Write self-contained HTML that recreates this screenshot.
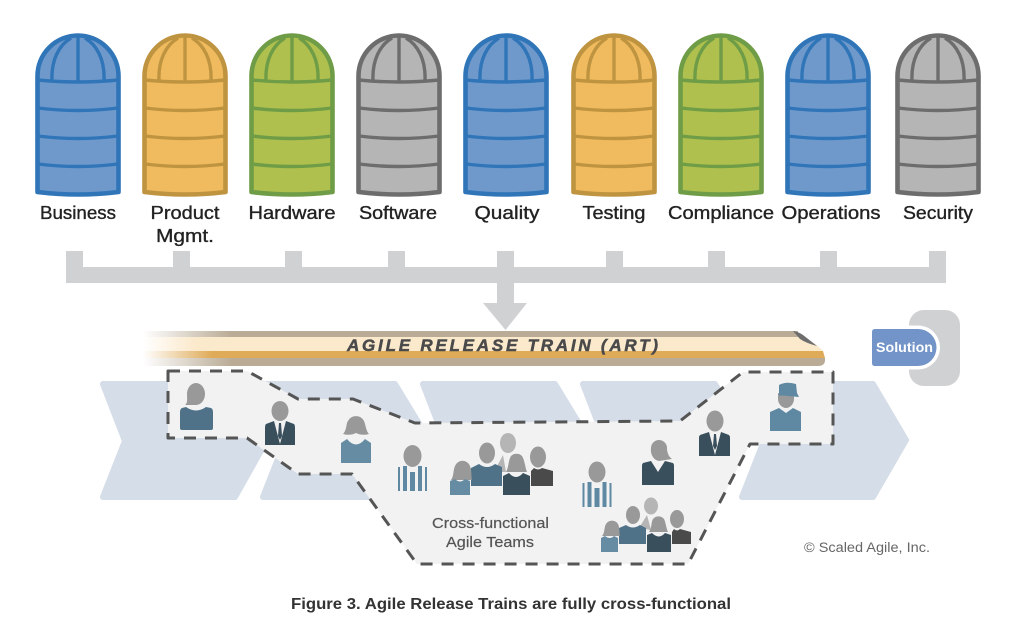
<!DOCTYPE html>
<html>
<head>
<meta charset="utf-8">
<style>
html,body{margin:0;padding:0;background:#fff;width:1024px;height:630px;overflow:hidden}
svg{display:block}
text{font-family:"Liberation Sans",sans-serif}
.l{font-size:18px;fill:#222;stroke:#222;stroke-width:.35;text-anchor:middle}
</style>
</head>
<body>
<svg width="1024" height="630" viewBox="0 0 1024 630" xmlns="http://www.w3.org/2000/svg">
<defs>
<g id="silo" stroke-linejoin="round">
  <path stroke-width="4.600" d="M-40.500 192V76A40.500 40.500 0 0 1 40.500 76V192Q0 197 -40.500 192Z"/>
  <path fill="none" stroke-width="3.400" d="M-40 80Q0 84 40 80M-40 108Q0 113 40 108M-40 136Q0 141 40 136M-40 164Q0 169 40 164M0 35V82M-26 81C-27 60-19 45-7 38M26 81C27 60 19 45 7 38"/>
</g>
<linearGradient id="fb" gradientUnits="userSpaceOnUse" x1="143" x2="232"><stop offset="0" stop-color="#b9ab95" stop-opacity="0"/><stop offset="1" stop-color="#b9ab95"/></linearGradient>
<linearGradient id="fc" gradientUnits="userSpaceOnUse" x1="143" x2="195"><stop offset="0" stop-color="#fbe9cc" stop-opacity="0"/><stop offset="1" stop-color="#fbe9cc"/></linearGradient>
<linearGradient id="fo" gradientUnits="userSpaceOnUse" x1="143" x2="212"><stop offset="0" stop-color="#dfab59" stop-opacity="0"/><stop offset="1" stop-color="#dfab59"/></linearGradient>
<g id="stripes" fill="#5f89a3">
  <rect x="-15" y="12" width="2" height="24"/><rect x="-10" y="11" width="4" height="25"/><rect x="-3" y="17" width="5" height="19"/><rect x="5" y="11" width="4" height="25"/><rect x="12" y="12" width="2" height="24"/>
</g>
</defs>

<!-- silos -->
<g fill="#6f99cb" stroke="#2f75b8"><use href="#silo" x="78"/><use href="#silo" x="506"/><use href="#silo" x="828"/></g>
<g fill="#f0bb5f" stroke="#bf9440"><use href="#silo" x="185"/><use href="#silo" x="614"/></g>
<g fill="#afc04f" stroke="#6f9c46"><use href="#silo" x="292"/><use href="#silo" x="721"/></g>
<g fill="#b5b5b5" stroke="#6d6d6d"><use href="#silo" x="399"/><use href="#silo" x="938"/></g>

<!-- labels -->
<text class="l" x="78" y="219" textLength="76" lengthAdjust="spacingAndGlyphs">Business</text>
<text class="l" x="185" y="219" textLength="69" lengthAdjust="spacingAndGlyphs">Product</text>
<text class="l" x="185" y="242" textLength="58" lengthAdjust="spacingAndGlyphs">Mgmt.</text>
<text class="l" x="292" y="219" textLength="87" lengthAdjust="spacingAndGlyphs">Hardware</text>
<text class="l" x="398" y="219" textLength="78" lengthAdjust="spacingAndGlyphs">Software</text>
<text class="l" x="507" y="219" textLength="65" lengthAdjust="spacingAndGlyphs">Quality</text>
<text class="l" x="614" y="219" textLength="63" lengthAdjust="spacingAndGlyphs">Testing</text>
<text class="l" x="721" y="219" textLength="106" lengthAdjust="spacingAndGlyphs">Compliance</text>
<text class="l" x="831" y="219" textLength="99" lengthAdjust="spacingAndGlyphs">Operations</text>
<text class="l" x="938" y="219" textLength="70" lengthAdjust="spacingAndGlyphs">Security</text>

<!-- bus -->
<g fill="#d0d1d3">
  <rect x="66" y="267" width="880" height="16"/>
  <rect x="66" y="251" width="17" height="16"/><rect x="173" y="251" width="17" height="16"/><rect x="285" y="251" width="17" height="16"/><rect x="388" y="251" width="17" height="16"/><rect x="497" y="251" width="17" height="16"/><rect x="606" y="251" width="17" height="16"/><rect x="708" y="251" width="17" height="16"/><rect x="820" y="251" width="17" height="16"/><rect x="929" y="251" width="17" height="16"/>
  <path d="M497 283H514V303H527L505.500 330L483 303H497Z"/>
</g>

<!-- chevrons -->
<g fill="#d4dde8" stroke="#d4dde8" stroke-width="6" stroke-linejoin="round">
  <path d="M103 384H235L267 440L235 497H103L125 441Z"/>
  <path d="M263 384H395L429 440L395 497H263L285 441Z"/>
  <path d="M423 384H555L589 440L555 497H423L445 441Z"/>
  <path d="M583 384H715L749 440L715 497H583L605 441Z"/>
  <path d="M742 384H873L906 440L873 497H742L764 441Z"/>
</g>

<!-- train -->
<rect x="143" y="331" width="655" height="6" fill="url(#fb)"/>
<path d="M143 337H801Q815 342 823 351H143Z" fill="url(#fc)"/>
<path d="M143 351H823L825 358H143Z" fill="url(#fo)"/>
<path d="M143 358H825V360Q825 366 818 366H143Z" fill="url(#fb)"/>
<path d="M793 331Q799 332 803 335L817 346Q806 343 800 339Z" fill="#6d6d6d"/>
<text x="347" y="351" font-size="17" font-weight="bold" font-style="italic" fill="#4a4a4a" stroke="#4a4a4a" stroke-width=".5" textLength="311" lengthAdjust="spacing">AGILE RELEASE TRAIN (ART)</text>

<!-- solution -->
<rect x="909" y="310" width="51" height="76" rx="15" fill="#d0d1d3"/>
<path d="M905 325.500H918A22 22 0 0 1 918 369.500H905Z" fill="#fff"/>
<path d="M875 329H918A18.500 18.500 0 0 1 918 366H875Q872 366 872 363V332Q872 329 875 329Z" fill="#7394c8"/>
<text x="904.500" y="352" font-size="13.500" font-weight="bold" fill="#fff" text-anchor="middle" textLength="57" lengthAdjust="spacingAndGlyphs">Solution</text>

<!-- dashed panel -->
<path d="M168 371H247L298 399H353L415 423L680 421L743 372H833V444H750L688 564H417L352 474H298L247 438H168Z" fill="#f2f2f2" stroke="#555" stroke-width="3" stroke-dasharray="12 9" stroke-linejoin="round"/>

<!-- people -->
<g fill="#999">
  <!-- woman 1 -->
  <path d="M185 405C188 403 187 398 187 394A9 11 0 0 1 205 394A9 11 0 0 1 196 405Z"/>
  <path d="M186 407Q196 414 206 407L211 408Q213 409 213 412V428Q213 430 211 430H182Q180 430 180 428V412Q180 409 182 408Z" fill="#4f7289"/>
  <!-- suit -->
  <ellipse cx="280" cy="411" rx="8.500" ry="10"/>
  <path d="M266 424L274 421L280 444L286 421L294 424Q295 425 295 428V445H265V428Q265 425 266 424Z" fill="#3a4f5c"/>
  <path d="M279 423H281L282 436L280 440L278 436Z" fill="#3a4f5c"/>
  <!-- woman 3 -->
  <path d="M343 434C347 430 346 423 348 421A9 9 0 0 1 364 421C366 426 366 431 369 434Q362 436 356 433Q350 436 343 434Z"/>
  <path d="M341 443L347 439Q356 450 365 439L371 443V463H341Z" fill="#668ca3"/>
  <!-- striped 1 -->
  <ellipse cx="412.500" cy="456" rx="9" ry="11"/>
  <use href="#stripes" x="413" y="455"/>
  <!-- group 1 -->
  <ellipse cx="508" cy="443" rx="8" ry="10" fill="#b5b5b5"/>
  <path d="M494 472L503 455L506 472Z" fill="#b5b5b5"/>
  <ellipse cx="487" cy="453" rx="8" ry="10.500"/>
  <path d="M471 468L479 464Q487 470 495 464L502 467V486H471Z" fill="#4f7289"/>
  <path d="M451 480C454 476 453 470 455 466A8 8 0 0 1 470 466C472 471 471 476 472 480Z"/>
  <path d="M450 481L455 479Q460 484 465 479L470 481V495H450Z" fill="#668ca3"/>
  <ellipse cx="538" cy="457" rx="8" ry="10.500"/>
  <path d="M531 471L534 468Q538 471 542 468L553 471V486H531Z" fill="#4a4a4a"/>
  <path d="M506 472C509 467 508 461 511 456A8 8 0 0 1 522 456C525 461 525 467 527 472Z"/>
  <path d="M503 476L509 473Q516 481 523 473L530 476V495H503Z" fill="#3a4f5c"/>
  <!-- striped 2 -->
  <ellipse cx="597" cy="472" rx="8.500" ry="10.500"/>
  <use href="#stripes" x="597.500" y="471"/>
  <!-- woman dark -->
  <path d="M651 448A8 8 0 0 1 667 448C667 453 669 457 672 459L659 461A9 11 0 0 1 651 448Z"/>
  <path d="M643 463L651 461L658 472L665 461L673 463Q674 464 674 466V485H642V466Q642 464 643 463Z" fill="#3a4f5c"/>
  <!-- suit 2 -->
  <ellipse cx="715" cy="421" rx="8.500" ry="10.500"/>
  <path d="M700 435L709 432L715 455L721 432L729 435Q730 436 730 438V456H699V438Q699 436 700 435Z" fill="#3a4f5c"/>
  <path d="M714 434H716L717 446L715 450L713 446Z" fill="#3a4f5c"/>
  <!-- conductor -->
  <path d="M778 393H794V399C794 404 790 408 786 408C782 408 778 404 778 399Z"/>
  <path d="M779 385Q786 381 796 384L797 393L799 397L788 396Q782 395 779 396Z" fill="#5f89a3"/>
  <path d="M770 412L779 408L786 413L793 408L801 412V431H770Z" fill="#5f89a3"/>
  <!-- group 2 -->
  <ellipse cx="651" cy="506" rx="7" ry="8.500" fill="#b5b5b5"/>
  <path d="M639 528L647 515L651 530Z" fill="#b5b5b5"/>
  <ellipse cx="633" cy="515" rx="7" ry="9"/>
  <path d="M619 528L626 525Q633 530 640 525L646 528V544H619Z" fill="#4f7289"/>
  <path d="M602 536C605 533 604 527 606 524A7 7 0 0 1 618 524C620 528 619 533 620 536Z"/>
  <path d="M601 538L605 536Q610 540 614 536L618 538V552H601Z" fill="#668ca3"/>
  <ellipse cx="677" cy="519" rx="7" ry="9"/>
  <path d="M672 532L674 529Q677 532 680 529L691 532V544H672Z" fill="#4a4a4a"/>
  <path d="M649 532C652 528 651 522 653 519A7 7 0 0 1 664 519C666 523 666 528 668 532Z"/>
  <path d="M647 535L652 533Q659 540 665 533L671 535V552H647Z" fill="#3a4f5c"/>
</g>

<!-- texts -->
<text x="490.500" y="528" font-size="15" fill="#555" stroke="#555" stroke-width=".2" text-anchor="middle" textLength="117" lengthAdjust="spacingAndGlyphs">Cross-functional</text>
<text x="490" y="547" font-size="15" fill="#555" stroke="#555" stroke-width=".2" text-anchor="middle" textLength="88" lengthAdjust="spacingAndGlyphs">Agile Teams</text>
<text x="804" y="552" font-size="13.500" fill="#666" textLength="126" lengthAdjust="spacingAndGlyphs">© Scaled Agile, Inc.</text>
<text x="291" y="609" font-size="15.500" font-weight="bold" fill="#333" textLength="440" lengthAdjust="spacingAndGlyphs">Figure 3. Agile Release Trains are fully cross-functional</text>
</svg>
</body>
</html>
